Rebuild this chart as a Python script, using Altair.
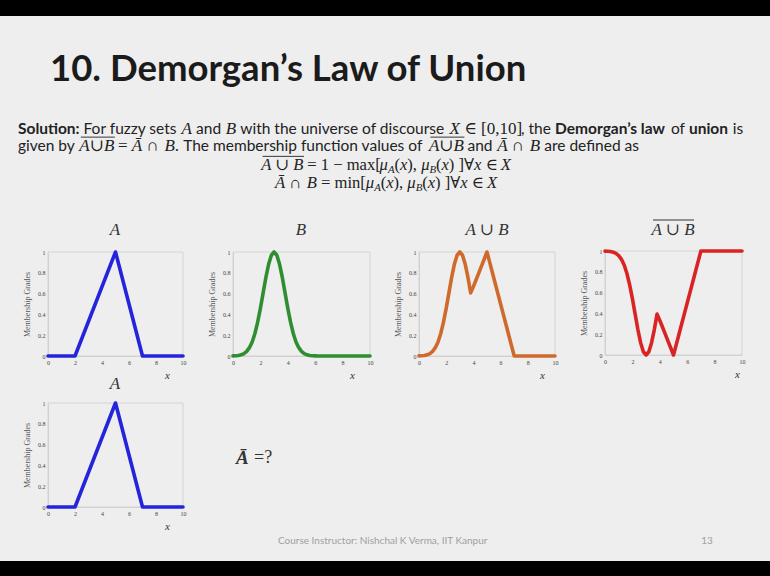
import altair as alt
import pandas as pd

W, H = 770, 576
BG = "#eeeeee"
INK = "#222222"
FRAME = "#cdcdcd"
SANS = "Lato"
SERIF = "Liberation Serif, DejaVu Serif"

# ---------------- data ----------------
X_GRID = [0.0, 0.2, 0.4, 0.6, 0.8, 1.0, 1.2, 1.4, 1.6, 1.8,
          2.0, 2.2, 2.4, 2.6, 2.8, 3.0, 3.2, 3.4, 3.6, 3.8,
          4.0, 4.2, 4.4, 4.6, 4.8, 5.0, 5.2, 5.4, 5.6, 5.8,
          6.0, 6.2, 6.4, 6.6, 6.8, 7.0, 7.2, 7.4, 7.6, 7.8,
          8.0, 8.2, 8.4, 8.6, 8.8, 9.0, 9.2, 9.4, 9.6, 9.8, 10.0]

# triangular set A (corner points)
A_X = [0, 2, 5, 7, 10]
A_MU = [0, 0, 1, 0, 0]

# bell-shaped set B
B_MU = [0.001, 0.002, 0.005, 0.011, 0.023, 0.044, 0.080, 0.135, 0.216, 0.325,
        0.458, 0.607, 0.755, 0.882, 0.969, 1.000, 0.969, 0.882, 0.755, 0.607,
        0.458, 0.325, 0.216, 0.135, 0.080, 0.044, 0.023, 0.011, 0.005, 0.002,
        0.001, 0, 0, 0, 0, 0, 0, 0, 0, 0,
        0, 0, 0, 0, 0, 0, 0, 0, 0, 0, 0]

# union of A and B
UNION_MU = [0.001, 0.002, 0.005, 0.011, 0.023, 0.044, 0.080, 0.135, 0.216, 0.325,
            0.458, 0.607, 0.755, 0.882, 0.969, 1.000, 0.969, 0.882, 0.755, 0.607,
            0.667, 0.733, 0.800, 0.867, 0.933, 1.000, 0.900, 0.800, 0.700, 0.600,
            0.500, 0.400, 0.300, 0.200, 0.100, 0, 0, 0, 0, 0,
            0, 0, 0, 0, 0, 0, 0, 0, 0, 0, 0]

# complement of the union
COMPL_MU = [0.999, 0.998, 0.995, 0.989, 0.977, 0.956, 0.920, 0.865, 0.784, 0.675,
            0.542, 0.393, 0.245, 0.118, 0.031, 0.000, 0.031, 0.118, 0.245, 0.393,
            0.333, 0.267, 0.200, 0.133, 0.067, 0.000, 0.100, 0.200, 0.300, 0.400,
            0.500, 0.600, 0.700, 0.800, 0.900, 1.000, 1, 1, 1, 1,
            1, 1, 1, 1, 1, 1, 1, 1, 1, 1, 1]

X_TICKS = [0, 2, 4, 6, 8, 10]
Y_TICKS = [0, 0.2, 0.4, 0.6, 0.8, 1]

ONE = pd.DataFrame({"k": [0]})

# ---------------- text helpers ----------------
SANS_EM = dict(zip("abcdefghijklmnopqrstuvwxyz",
                   [.51, .56, .46, .56, .52, .32, .50, .56, .24, .24, .50, .24, .84,
                    .56, .56, .56, .56, .36, .42, .35, .56, .50, .76, .49, .50, .45]))
SANS_EM.update(dict(zip("ABCDEFGHIJKLMNOPQRSTUVWXYZ",
                        [.68, .63, .66, .73, .56, .54, .72, .75, .28, .36, .64, .49, .90,
                         .75, .79, .59, .79, .62, .52, .58, .72, .68, 1.0, .65, .62, .60])))
SANS_EM.update({" ": .26, ":": .24, ".": .22, ",": .22, "'": .2, "\u2019": .2})
for d in "0123456789":
    SANS_EM[d] = .58

SERIF_EM = {c: .44 for c in "abcdefghijklmnopqrstuvwxyz"}
SERIF_EM.update({c: .64 for c in "ABCDEFGHIJKLMNOPQRSTUVWXYZ"})
SERIF_EM.update({"A": .61, "B": .61, "X": .61, "\u0100": .61, "m": .78, "i": .28, "n": .5,
                 " ": .25, "\u2208": .67, "\u222a": .8, "\u2229": .8, "\u2200": .6,
                 "[": .33, "]": .33, "(": .33, ")": .33, ",": .25, ".": .25, "=": .56,
                 "\u2212": .56, "\u03bc": .5})
for d in "0123456789":
    SERIF_EM[d] = .5

STYLES = {
    "reg": dict(font=SANS, fontStyle="normal", fontWeight="normal", k=1.0, dy=0.0, em=SANS_EM, wm=1.015),
    "bold": dict(font=SANS, fontStyle="normal", fontWeight="bold", k=1.0, dy=0.0, em=SANS_EM, wm=1.035),
    "it": dict(font=SERIF, fontStyle="italic", fontWeight="normal", k=1.1, dy=0.0, em=SERIF_EM, wm=1.0),
    "bar": dict(font=SERIF, fontStyle="italic", fontWeight="normal", k=1.1, dy=0.0, em=SERIF_EM, wm=1.0),
    "math": dict(font=SERIF, fontStyle="normal", fontWeight="normal", k=1.1, dy=0.0, em=SERIF_EM, wm=1.0),
    "sub": dict(font=SERIF, fontStyle="italic", fontWeight="normal", k=0.72, dy=0.3, em=SERIF_EM, wm=1.0),
}


def label(text, x, y, size, font=SANS, style="normal", weight="normal",
          color=INK, align="left"):
    return alt.Chart(ONE).mark_text(
        text=text, align=align, baseline="middle", font=font, fontSize=size,
        fontStyle=style, fontWeight=weight, color=color,
    ).encode(x=alt.value(x), y=alt.value(y))


def bar_rule(x1, x2, y, color=INK, width=1.0):
    return alt.Chart(ONE).mark_rule(color=color, strokeWidth=width).encode(
        x=alt.value(x1), x2=alt.value(x2), y=alt.value(y))


def run_width(text, st, size):
    return sum(st["em"].get(ch, 0.5) for ch in text) * size * st["k"] * st["wm"]


def text_line(runs, y, size, x0=None, center=None, color=INK):
    """Lay out runs of mixed-style text one after another on one line."""
    pieces, cursor = [], 0.0
    for text, sty in runs:
        st = STYLES[sty]
        w = run_width(text, st, size)
        core = text.strip(" ")
        lead = run_width(text[:len(text) - len(text.lstrip(" "))], st, size)
        pieces.append((core, cursor + lead, run_width(core, st, size), st, sty))
        cursor += w
    start = x0 if x0 is not None else center - cursor / 2
    out = []
    for core, off, cw, st, sty in pieces:
        fs = size * st["k"]
        out.append(label(core, start + off, y + st["dy"] * size, fs, st["font"],
                         st["fontStyle"], st["fontWeight"], color))
        if sty == "bar":
            out.append(bar_rule(start + off + 1.5, start + off + cw + 1, y - 0.52 * fs, color, 0.9))
    return out


# ---------------- panels ----------------
def panel(xs, mus, color, box, xlab_x):
    left, right, top, bottom = box
    xscale = alt.Scale(domain=[0, 10], range=[left, right], nice=False, zero=False)
    yscale = alt.Scale(domain=[0, 1], range=[bottom, top], nice=False, zero=False)
    x_axis = alt.Axis(
        orient="bottom", offset=bottom - H, values=X_TICKS, format="d",
        ticks=False, tickSize=0, grid=False, domainColor=FRAME, domainWidth=0.8,
        labelFont=SERIF, labelFontSize=6, labelColor="#444", labelPadding=3,
        labelFlush=False, labelOverlap=False,
        title="x", titleFont=SERIF, titleFontStyle="italic", titleFontWeight="normal",
        titleFontSize=11, titleColor="#333", titleX=xlab_x, titleY=19,
        titleAlign="center", titleBaseline="middle",
    )
    y_axis = alt.Axis(
        orient="left", offset=-left, values=Y_TICKS, format="~g",
        ticks=False, tickSize=0, grid=False, domainColor=FRAME, domainWidth=0.8,
        labelFont=SERIF, labelFontSize=6, labelColor="#444", labelPadding=3,
        labelFlush=False, labelOverlap=False,
        title="Membership Grades", titleFont=SERIF, titleFontWeight="normal",
        titleFontSize=8, titleColor="#555", titleX=-21, titleY=(top + bottom) / 2,
        titleAlign="center", titleBaseline="middle",
    )
    df = pd.DataFrame({"x": xs, "mu": mus})
    frame = alt.Chart(pd.DataFrame({"x0": [0], "x1": [10], "y0": [0], "y1": [1]})).mark_rect(
        filled=False, stroke=FRAME, strokeWidth=0.8,
    ).encode(
        x=alt.X("x0:Q", scale=xscale, axis=None), x2="x1:Q",
        y=alt.Y("y0:Q", scale=yscale, axis=None), y2="y1:Q",
    )
    line = alt.Chart(df).mark_line(
        color=color, strokeWidth=3.6, strokeJoin="round", strokeCap="round",
    ).encode(
        x=alt.X("x:Q", scale=xscale, axis=x_axis),
        y=alt.Y("mu:Q", scale=yscale, axis=y_axis),
    )
    return [frame, line]


layers = []
# black letterbox bands
layers.append(alt.Chart(ONE).mark_rect(color="#000000").encode(
    x=alt.value(0), x2=alt.value(W), y=alt.value(0), y2=alt.value(16)))
layers.append(alt.Chart(ONE).mark_rect(color="#000000").encode(
    x=alt.value(0), x2=alt.value(W), y=alt.value(561), y2=alt.value(H)))

# slide title
layers.append(label("10. Demorgan\u2019s Law of Union", 50, 70, 36.5, SANS, "normal", "bold", "#1b1b1b"))

BODY = 15.5
layers += text_line([
    ("Solution:", "bold"), (" For fuzzy sets ", "reg"), ("A", "it"), (" and ", "reg"),
    ("B", "it"), (" with the universe of discourse ", "reg"), ("X", "it"),
    (" \u2208 [0,10]", "math"), (", the ", "reg"), ("Demorgan\u2019s law", "bold"),
    (" of ", "reg"), ("union", "bold"), (" is", "reg"),
], 129, BODY, x0=18)
layers += text_line([
    ("given by ", "reg"), ("A\u222aB", "bar"), (" = ", "math"), ("\u0100", "it"),
    (" \u2229 ", "math"), ("B", "it"), (".", "math"),
    (" The membership function values of ", "reg"), ("A\u222aB", "bar"),
    (" and ", "reg"), ("\u0100", "it"), (" \u2229 ", "math"), ("B", "it"),
    (" are defined as", "reg"),
], 146, BODY, x0=18)
layers += text_line([
    ("A \u222a B", "bar"), (" = 1 \u2212 max[", "math"), ("\u03bc", "it"), ("A", "sub"),
    ("(", "math"), ("x", "it"), ("), ", "math"), ("\u03bc", "it"), ("B", "sub"),
    ("(", "math"), ("x", "it"), (") ]\u2200", "math"), ("x", "it"), (" \u2208 ", "math"), ("X", "it"),
], 165, 15.1, center=386)
layers += text_line([
    ("\u0100", "it"), (" \u2229 ", "math"), ("B", "it"), (" = min[", "math"), ("\u03bc", "it"),
    ("A", "sub"), ("(", "math"), ("x", "it"), ("), ", "math"), ("\u03bc", "it"), ("B", "sub"),
    ("(", "math"), ("x", "it"), (") ]\u2200", "math"), ("x", "it"), (" \u2208 ", "math"), ("X", "it"),
], 183, 15.1, center=386)

# the five membership-function panels
layers += panel(A_X, A_MU, "#2424dc", (48, 183, 252, 356), 167)
layers += panel(X_GRID, B_MU, "#2f8f30", (233, 370, 252, 356), 352)
layers += panel(X_GRID, UNION_MU, "#cf6a2c", (419, 555, 252, 356), 542)
layers += panel(X_GRID, COMPL_MU, "#d92424", (605, 742, 251, 355), 737)
layers += panel(A_X, A_MU, "#2424dc", (48, 183, 403, 507), 167)

# panel headings
TSZ = 17
layers.append(label("A", 115, 230, TSZ, SERIF, "italic", "normal", "#333", "center"))
layers.append(label("B", 301, 230, TSZ, SERIF, "italic", "normal", "#333", "center"))
layers.append(label("A \u222a B", 487, 230, TSZ, SERIF, "italic", "normal", "#333", "center"))
layers.append(label("A \u222a B", 673, 230, TSZ, SERIF, "italic", "normal", "#333", "center"))
layers.append(bar_rule(653, 694, 220, "#333", 1.0))
layers.append(label("A", 115, 384, TSZ, SERIF, "italic", "normal", "#333", "center"))

# question
layers.append(label("\u0100", 236, 458, 19, SERIF, "italic", "bold", "#333"))
layers.append(label("=?", 254, 458, 18, SERIF, "normal", "normal", "#333"))

# footer
layers.append(label("Course Instructor: Nishchal K Verma, IIT Kanpur", 278, 541, 10, SANS,
                    "normal", "normal", "#a0a0a0"))
layers.append(label("13", 707, 541, 10, SANS, "normal", "normal", "#a0a0a0", "center"))

chart = alt.layer(*layers).resolve_scale(
    x="independent", y="independent"
).properties(
    width=W, height=H, background=BG, padding=0,
    autosize=alt.AutoSizeParams(type="none"),
).configure_view(stroke="transparent")

chart.save("out.html", embed_options={"renderer": "svg", "actions": False})
